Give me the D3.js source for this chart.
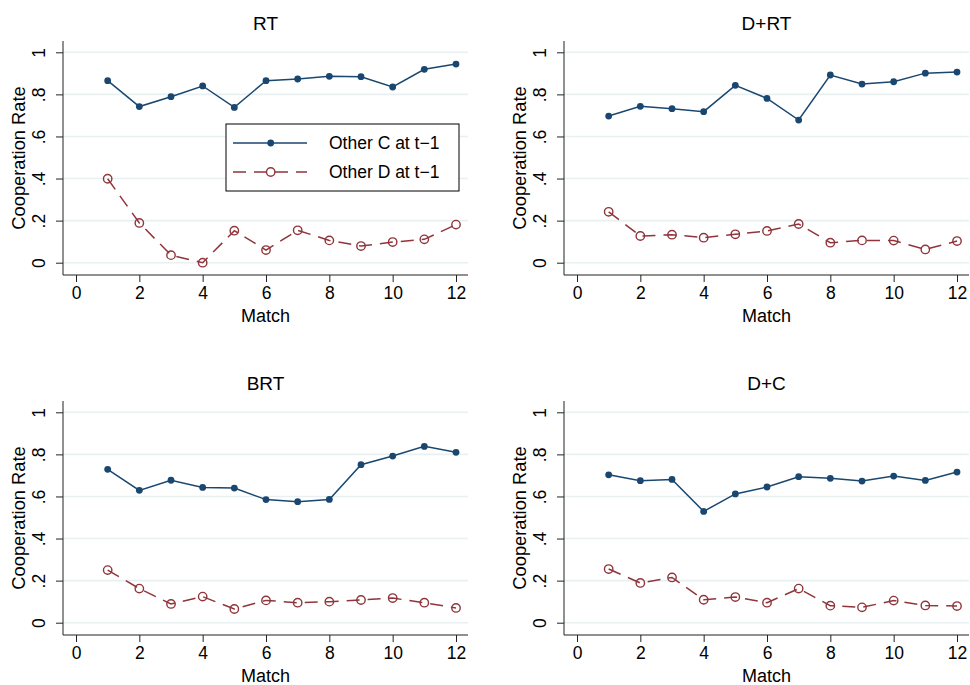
<!DOCTYPE html>
<html>
<head>
<meta charset="utf-8">
<script src="https://cdn.jsdelivr.net/npm/d3@7"></script>
<style>
  html, body { margin: 0; padding: 0; background: #fff; }
  svg { display: block; font-family: "Liberation Sans", Arial, sans-serif; }
</style>
</head>
<body>
<svg id="chart" width="970" height="685"></svg>
<script>
// ---- Data ----
const panelTitles = ["RT", "D+RT", "BRT", "D+C"];
const matches = [1, 2, 3, 4, 5, 6, 7, 8, 9, 10, 11, 12];
const xTicks = [0, 2, 4, 6, 8, 10, 12];
const yTicks = [0, 0.2, 0.4, 0.6, 0.8, 1];
const yTickLabels = ["0", ".2", ".4", ".6", ".8", "1"];
const seriesNames = ["Other C at t\u22121", "Other D at t\u22121"];

const rtC   = [0.865, 0.742, 0.789, 0.840, 0.738, 0.865, 0.873, 0.886, 0.884, 0.835, 0.919, 0.944];
const rtD   = [0.399, 0.189, 0.036, 0.000, 0.152, 0.060, 0.154, 0.106, 0.079, 0.098, 0.111, 0.181];
const drtC  = [0.697, 0.743, 0.732, 0.718, 0.843, 0.781, 0.678, 0.892, 0.849, 0.860, 0.901, 0.906];
const drtD  = [0.242, 0.127, 0.133, 0.119, 0.135, 0.151, 0.184, 0.095, 0.106, 0.105, 0.063, 0.103];
const brtC  = [0.729, 0.629, 0.677, 0.643, 0.640, 0.585, 0.575, 0.586, 0.751, 0.792, 0.838, 0.810];
const brtD  = [0.250, 0.162, 0.089, 0.124, 0.065, 0.106, 0.095, 0.100, 0.108, 0.117, 0.095, 0.070];
const dcC   = [0.703, 0.675, 0.681, 0.529, 0.612, 0.645, 0.694, 0.686, 0.673, 0.697, 0.676, 0.716];
const dcD   = [0.255, 0.189, 0.215, 0.109, 0.122, 0.095, 0.162, 0.081, 0.073, 0.105, 0.082, 0.079];

const panelC = [rtC, drtC, brtC, dcC];
const panelD = [rtD, drtD, brtD, dcD];

// ---- Style / layout ----
const colC = "#1a476f";
const colD = "#90353b";
const gridCol = "#e8f0f2";
const panelOrigins = [[63, 41], [564, 41], [63, 401], [564, 401]];
const plotW = 405, plotH = 234;

const svg = d3.select("#chart");

const x = d3.scaleLinear().domain([0, 12]).range([13, 393]);
const y = d3.scaleLinear().domain([0, 1]).range([221.7, 11.3]);

panelTitles.forEach((title, i) => {
  const [ox, oy] = panelOrigins[i];
  const g = svg.append("g").attr("transform", `translate(${ox},${oy})`);

  // grid
  g.selectAll(".grid").data(yTicks).enter().append("line")
    .attr("x1", 0).attr("x2", plotW)
    .attr("y1", d => y(d)).attr("y2", d => y(d))
    .attr("stroke", gridCol).attr("stroke-width", 1.6);

  // y axis
  const yAxis = d3.axisLeft(y).tickValues(yTicks).tickSize(7).tickPadding(11)
    .tickFormat((d, k) => yTickLabels[k]);
  const ya = g.append("g").call(yAxis);
  ya.select(".domain").attr("d", `M0,0V${plotH}`).attr("stroke", "#222");
  ya.selectAll(".tick line").attr("stroke", "#222");
  ya.selectAll(".tick text")
    .attr("font-size", 17.5).attr("fill", "#000")
    .attr("x", -18).attr("dy", "0em")
    .attr("transform", "rotate(-90, -18, 0)")
    .attr("text-anchor", "middle");
  ya.attr("font-family", null);

  // x axis
  const xAxis = d3.axisBottom(x).tickValues(xTicks).tickSize(7).tickPadding(5);
  const xa = g.append("g").attr("transform", `translate(0,${plotH})`).call(xAxis);
  xa.select(".domain").attr("d", `M0,0H${plotW}`).attr("stroke", "#222");
  xa.selectAll(".tick line").attr("stroke", "#222");
  xa.selectAll(".tick text").attr("font-size", 17.5).attr("fill", "#000");
  xa.attr("font-family", null);

  // titles
  g.append("text").attr("x", plotW / 2).attr("y", -11).attr("text-anchor", "middle")
    .attr("font-size", 19).attr("fill", "#000").text(title);
  g.append("text").attr("x", plotW / 2).attr("y", plotH + 47).attr("text-anchor", "middle")
    .attr("font-size", 18).attr("fill", "#000").text("Match");
  g.append("text")
    .attr("transform", `translate(-38,${plotH / 2}) rotate(-90)`)
    .attr("text-anchor", "middle").attr("font-size", 18.3).attr("fill", "#000")
    .text("Cooperation Rate");

  const line = d3.line().x((d, k) => x(matches[k])).y(d => y(d));

  // D series (dashed, hollow)
  g.append("path").datum(panelD[i]).attr("d", line)
    .attr("fill", "none").attr("stroke", colD).attr("stroke-width", 1.5)
    .attr("stroke-dasharray", "13,8");
  g.selectAll(".dpt").data(panelD[i]).enter().append("circle")
    .attr("cx", (d, k) => x(matches[k])).attr("cy", d => y(d)).attr("r", 4.2)
    .attr("fill", "none").attr("stroke", colD).attr("stroke-width", 1.4);

  // C series (solid, filled)
  g.append("path").datum(panelC[i]).attr("d", line)
    .attr("fill", "none").attr("stroke", colC).attr("stroke-width", 1.5);
  g.selectAll(".cpt").data(panelC[i]).enter().append("circle")
    .attr("cx", (d, k) => x(matches[k])).attr("cy", d => y(d)).attr("r", 3.4)
    .attr("fill", colC);
});

// ---- Legend (in first panel) ----
const lg = svg.append("g").attr("transform", "translate(226,124)");
lg.append("rect").attr("x", 0).attr("y", 0).attr("width", 233).attr("height", 67)
  .attr("fill", "#fff").attr("stroke", "#000").attr("stroke-width", 1);
const rowsY = [19, 48];
// row 1
lg.append("line").attr("x1", 7).attr("x2", 81).attr("y1", rowsY[0]).attr("y2", rowsY[0])
  .attr("stroke", colC).attr("stroke-width", 1.5);
lg.append("circle").attr("cx", 44.7).attr("cy", rowsY[0]).attr("r", 3.4).attr("fill", colC);
// row 2
lg.append("line").attr("x1", 7).attr("x2", 81).attr("y1", rowsY[1]).attr("y2", rowsY[1])
  .attr("stroke", colD).attr("stroke-width", 1.5).attr("stroke-dasharray", "13,8");
lg.append("circle").attr("cx", 44.7).attr("cy", rowsY[1]).attr("r", 4.2)
  .attr("fill", "none").attr("stroke", colD).attr("stroke-width", 1.4);
seriesNames.forEach((n, k) => {
  lg.append("text").attr("x", 103).attr("y", rowsY[k] + 6).attr("font-size", 17.5)
    .attr("fill", "#000").text(n);
});
</script>
</body>
</html>
